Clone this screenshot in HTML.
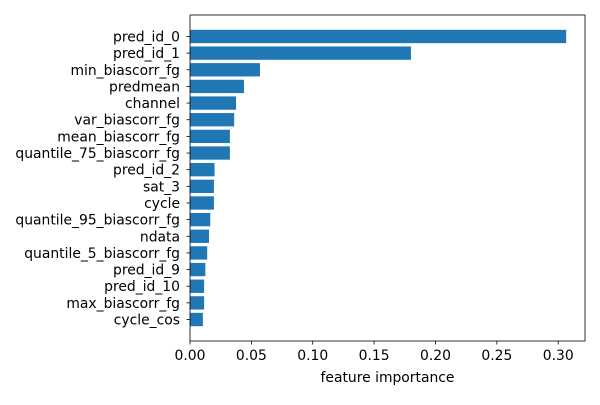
<!DOCTYPE html>
<html><head><meta charset="utf-8"><style>
html,body{margin:0;padding:0;background:#fff;}
svg text{font-family:"DejaVu Sans","Liberation Sans",sans-serif;font-size:13.9px;fill:#000;}
</style></head><body>
<svg id="chart" width="600" height="400" xmlns="http://www.w3.org/2000/svg"></svg>
<script>
const categories = ["pred_id_0","pred_id_1","min_biascorr_fg","predmean","channel","var_biascorr_fg","mean_biascorr_fg","quantile_75_biascorr_fg","pred_id_2","sat_3","cycle","quantile_95_biascorr_fg","ndata","quantile_5_biascorr_fg","pred_id_9","pred_id_10","max_biascorr_fg","cycle_cos"];
const values = [0.3065,0.180,0.057,0.044,0.0375,0.036,0.0325,0.0325,0.020,0.0195,0.0195,0.0165,0.0155,0.014,0.0125,0.0115,0.0115,0.0105];
const xTicks = [0,0.05,0.10,0.15,0.20,0.25,0.30];
const xTickLabels = ["0.00","0.05","0.10","0.15","0.20","0.25","0.30"];

const NS="http://www.w3.org/2000/svg";
const svg=document.getElementById('chart');
const L=190,R=585,T=15,B=341;
const maxV=Math.max(...values);
const xMax=maxV*1.05;
const n=categories.length;
const yMin=-0.4-0.05*(n-1+0.8), yMax=(n-1)+0.4+0.05*(n-1+0.8);
const x=v=>L+(v/xMax)*(R-L);
const y=i=>T+(i-yMin)/(yMax-yMin)*(B-T);
function mk(tag,attrs,parent){const e=document.createElementNS(NS,tag);for(const k in attrs)e.setAttribute(k,attrs[k]);(parent||svg).appendChild(e);return e;}

const bars=mk('g',{});


categories.forEach((c,i)=>{
  const yc=y(i), h=0.8*(B-T)/(yMax-yMin);
  const r=mk('rect',{x:x(0),y:yc-h/2,width:x(values[i])-x(0),height:h,fill:'#1f77b4'},bars);
  
  
  const tk=mk('line',{x1:L-3.5,x2:L,y1:yc,y2:yc,stroke:'#000','stroke-width':0.8});
  
  
  const t=mk('text',{x:L-10,y:yc+5,'text-anchor':'end'});
  t.textContent=c;
  
  
});
xTicks.forEach((v,k)=>{
  const xx=x(v);
  const tk=mk('line',{x1:xx,x2:xx,y1:B,y2:B+3.5,stroke:'#000','stroke-width':0.8});
  
  
  const t=mk('text',{x:xx,y:B+19,'text-anchor':'middle'});
  t.textContent=xTickLabels[k];
  
  
});
const frame=mk('rect',{x:L,y:T,width:R-L,height:B-T,fill:'none',stroke:'#000','stroke-width':0.8});


const xl=mk('text',{x:(L+R)/2,y:382,'text-anchor':'middle'});
xl.textContent='feature importance';


</script>
</body></html>
